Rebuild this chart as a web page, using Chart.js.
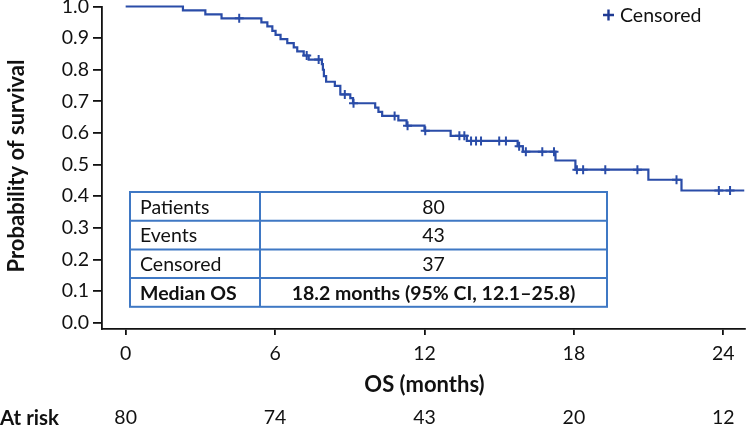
<!DOCTYPE html>
<html>
<head>
<meta charset="utf-8">
<script src="https://cdn.jsdelivr.net/npm/chart.js@4/dist/chart.umd.min.js"></script>
<style>
  body { margin: 0; background: #fff; }
</style>
</head>
<body>
<canvas id="km" width="751" height="429"></canvas>
<script>
// Kaplan-Meier steps: time (months) and survival from that time on
const kmTimes = [0, 2.3, 3.2, 3.85, 5.45, 5.69, 5.89, 6.02, 6.22, 6.49, 6.75, 6.89, 7.15, 7.35,
  7.88, 7.92, 7.96, 8.05, 8.40, 8.62, 9.02, 9.13, 10.02, 10.15, 10.30, 10.95, 11.28, 12.0,
  13.05, 13.7, 15.74, 15.95, 17.26, 18.06, 20.99, 22.32, 24.84];
const kmSurv = [1.0, 0.9875, 0.975, 0.9625, 0.95, 0.937, 0.923, 0.91, 0.897, 0.884, 0.871, 0.858, 0.845, 0.832,
  0.818, 0.80, 0.78, 0.762, 0.749, 0.722, 0.71, 0.694, 0.68, 0.667, 0.654, 0.64, 0.623, 0.607,
  0.591, 0.575, 0.558, 0.541, 0.513, 0.484, 0.452, 0.418, 0.418];
// censored observations (months)
const censorTimes = [4.56, 7.27, 7.75, 8.80, 9.15, 10.8, 11.32, 12.03, 13.4, 13.6, 13.87, 14.07, 14.27,
  15.0, 15.27, 15.8, 16.07, 16.73, 17.2, 18.12, 18.37, 19.26, 20.55, 22.12, 23.82, 24.27];

const xTicks = [0, 6, 12, 18, 24];
const yTicks = [0.0, 0.1, 0.2, 0.3, 0.4, 0.5, 0.6, 0.7, 0.8, 0.9, 1.0];
const atRisk = [80, 74, 43, 20, 12];

const tableLabels = ['Patients', 'Events', 'Censored', 'Median OS'];
const tableValues = ['80', '43', '37', '18.2 months (95% CI, 12.1\u201325.8)'];

const FONT = 'Lato';
const FS = 19.5;
const LINE = '#2a4ca8';
const TBL = '#3f78c4';

function survAt(t) {
  let s = kmSurv[0];
  for (let i = 0; i < kmTimes.length; i++) {
    if (kmTimes[i] <= t) s = kmSurv[i];
  }
  return s;
}

const overlay = {
  id: 'overlay',
  afterDatasetsDraw(chart) {
    const ctx = chart.ctx;
    const xs = chart.scales.x;
    ctx.save();
    ctx.fillStyle = '#111';
    ctx.textBaseline = 'middle';

    // y title
    ctx.save();
    ctx.translate(17, 166);
    ctx.rotate(-Math.PI / 2);
    ctx.textAlign = 'center';
    ctx.font = 'bold 22px ' + FONT;
    ctx.fillText('Probability of survival', 0, 0);
    ctx.restore();

    // x title
    ctx.textAlign = 'center';
    ctx.font = 'bold 22px ' + FONT;
    ctx.fillText('OS (months)', xs.getPixelForValue(12), 385);

    // at risk row
    ctx.textAlign = 'left';
    ctx.font = 'bold 20.5px ' + FONT;
    ctx.fillText('At risk', 0, 418);
    ctx.font = FS + 'px ' + FONT;
    ctx.textAlign = 'center';
    atRisk.forEach((n, i) => {
      ctx.fillText(String(n), xs.getPixelForValue(xTicks[i]), 418);
    });

    // legend
    ctx.strokeStyle = '#1f3a93';
    ctx.lineWidth = 2.4;
    ctx.beginPath();
    ctx.moveTo(603, 15); ctx.lineTo(614, 15);
    ctx.moveTo(608.5, 9.5); ctx.lineTo(608.5, 20.5);
    ctx.stroke();
    ctx.textAlign = 'left';
    ctx.font = FS + 'px ' + FONT;
    ctx.fillText('Censored', 620, 16);

    // summary table
    const left = 130, right = 607, top = 192, mid = 260;
    const rowH = 28.7;
    ctx.fillStyle = '#fff';
    ctx.fillRect(left, top, right - left, rowH * 4);
    ctx.strokeStyle = TBL;
    ctx.lineWidth = 2;
    ctx.strokeRect(left, top, right - left, rowH * 4);
    ctx.beginPath();
    for (let r = 1; r < 4; r++) {
      ctx.moveTo(left, top + r * rowH);
      ctx.lineTo(right, top + r * rowH);
    }
    ctx.moveTo(mid, top);
    ctx.lineTo(mid, top + rowH * 4);
    ctx.stroke();
    ctx.fillStyle = '#111';
    tableLabels.forEach((lab, r) => {
      const cy = top + r * rowH + rowH / 2 + 1;
      ctx.font = (r === 3 ? 'bold ' : '') + FS + 'px ' + FONT;
      ctx.textAlign = 'left';
      ctx.fillText(lab, left + 10, cy);
      ctx.textAlign = 'center';
      ctx.fillText(tableValues[r], (mid + right) / 2, cy);
    });
    ctx.restore();
  }
};

new Chart(document.getElementById('km'), {
  type: 'scatter',
  data: {
    datasets: [
      {
        data: kmTimes.map((t, i) => ({ x: t, y: kmSurv[i] })),
        showLine: true,
        stepped: true,
        borderColor: LINE,
        borderWidth: 2.2,
        pointRadius: 0,
        clip: false
      },
      {
        data: censorTimes.map(t => ({ x: t, y: survAt(t) })),
        showLine: false,
        pointStyle: 'cross',
        pointRadius: 4.5,
        borderColor: LINE,
        borderWidth: 2,
        clip: false
      }
    ]
  },
  options: {
    responsive: false,
    animation: false,
    layout: { padding: { top: 5, right: 3, left: 0, bottom: 0 } },
    plugins: { legend: { display: false }, tooltip: { enabled: false } },
    scales: {
      x: {
        type: 'linear',
        min: -0.95,
        max: 24.85,
        afterBuildTicks: s => { s.ticks = xTicks.map(v => ({ value: v })); },
        afterFit: s => { s.height = 100; s.paddingLeft = 0; s.paddingRight = 0; },
        grid: { drawOnChartArea: false, drawTicks: true, tickLength: 6, color: '#111', lineWidth: 1.8 },
        border: { display: true, color: '#111', width: 1.8 },
        ticks: { font: { family: FONT, size: FS }, color: '#111', padding: 7, maxRotation: 0 }
      },
      y: {
        min: -0.02,
        max: 1.0,
        afterBuildTicks: s => { s.ticks = yTicks.map(v => ({ value: v })); },
        afterFit: s => { s.width = 102; s.paddingTop = 0; s.paddingBottom = 0; },
        grid: { drawOnChartArea: false, drawTicks: true, tickLength: 9, color: '#111', lineWidth: 1.8 },
        border: { display: true, color: '#111', width: 1.8 },
        ticks: {
          font: { family: FONT, size: FS },
          color: '#111',
          padding: 4,
          callback: v => Number(v).toFixed(1)
        }
      }
    }
  },
  plugins: [overlay]
});
</script>
</body>
</html>
